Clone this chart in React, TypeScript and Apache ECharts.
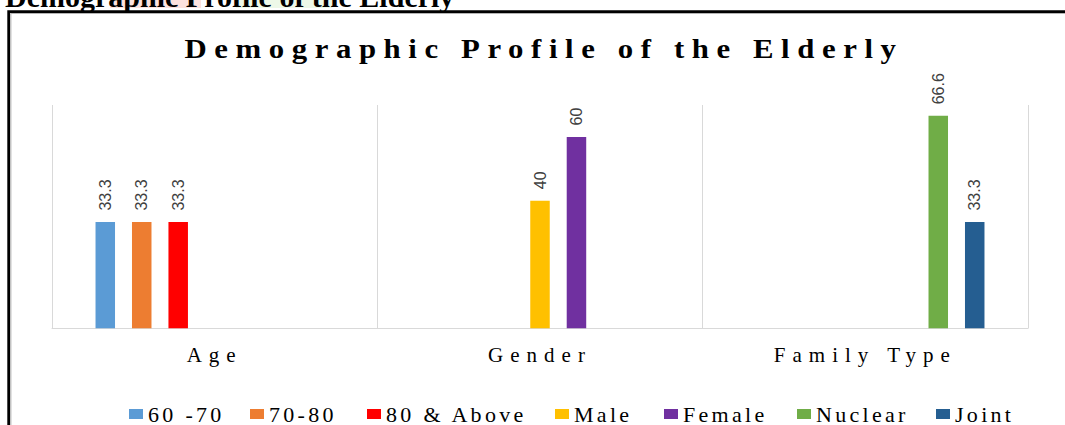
import React, { useEffect, useRef } from 'react';
import * as echarts from 'echarts';

// ---- data ----
const categories = ['Age', 'Gender', 'Family Type'];
const seriesNames = ['60 -70', '70-80', '80 & Above', 'Male', 'Female', 'Nuclear', 'Joint'];
const age60to70 = [33.3, null, null];
const age70to80 = [33.3, null, null];
const age80Above = [33.3, null, null];
const male = [null, 40, null];
const female = [null, 60, null];
const nuclear = [null, null, 66.6];
const joint = [null, null, 33.3];
const seriesColors = ['#5b9bd5', '#ed7d31', '#ff0000', '#ffc000', '#7030a0', '#70ad47', '#255e91'];
const chartTitle = 'Demographic Profile of the Elderly';

// ---- layout ----
const legendLefts = [129, 250, 367, 555, 664, 797, 936];

const SERIF_TITLE = 'Liberation Serif, lsTitle, serif';
const SERIF_AXIS = 'Liberation Serif, lsAxis, serif';
const SERIF_LEGEND = 'Liberation Serif, lsLegend, serif';
const SERIF_PLAIN = 'Liberation Serif, serif';

const css = `
#chart-root text[style*="lsTitle"] { letter-spacing: 6.9px; }
#chart-root text[style*="lsAxis"] { letter-spacing: 7px; }
#chart-root text[style*="lsLegend"] { letter-spacing: 3.3px; }
`;

export default function App() {
  const ref = useRef<HTMLDivElement>(null);

  useEffect(() => {
    if (!ref.current) return;
    const chart = echarts.init(ref.current, null, { renderer: 'svg' });
    const seriesData = [age60to70, age70to80, age80Above, male, female, nuclear, joint];

    const option: any = {
      animation: false,
      backgroundColor: '#ffffff',
      graphic: [
        { type: 'rect', z: 0, shape: { x: 110, y: 0, width: 91, height: 8 }, style: { fill: '#fde2de' } },
        { type: 'rect', z: 0, shape: { x: 236, y: 0, width: 96, height: 8 }, style: { fill: '#edf8e8' } },
        {
          type: 'text', z: 1, x: 5, y: -4,
          style: { text: chartTitle, fontFamily: SERIF_PLAIN, fontSize: 30, fontWeight: 'bold', fill: '#000', align: 'left', verticalAlign: 'middle' },
        },
        {
          type: 'rect', z: 1, shape: { x: 10.8, y: 13.4, width: 1300, height: 1000 },
          style: { fill: 'none', stroke: '#b4b4b4', lineWidth: 1.2 },
        },
        {
          type: 'rect', z: 2, shape: { x: 8.65, y: 11.6, width: 1300, height: 1000 },
          style: { fill: 'none', stroke: '#000', lineWidth: 2.7 },
        },
        {
          type: 'text', z: 2, x: 544, y: 48, scaleX: 1.1,
          style: { text: chartTitle, fontFamily: SERIF_TITLE, fontSize: 28, fontWeight: 'bold', fill: '#000', align: 'center', verticalAlign: 'middle' },
        },
      ],
      grid: { left: 52, right: 37, top: 105, bottom: 96.7, containLabel: false },
      xAxis: {
        type: 'category',
        data: categories,
        axisLine: { lineStyle: { color: '#d9d9d9', width: 1 } },
        axisTick: { show: false },
        splitLine: { show: true, lineStyle: { color: '#d9d9d9', width: 1 } },
        axisLabel: { fontFamily: SERIF_AXIS, fontSize: 21, color: '#000', margin: 16 },
      },
      yAxis: { type: 'value', min: 0, max: 70, show: false },
      legend: seriesNames.map((name, i) => ({
        data: [name],
        left: legendLefts[i],
        top: 403,
        padding: 0,
        itemGap: 0,
        itemWidth: 14,
        itemHeight: 10,
        icon: 'rect',
        selectedMode: false,
        textStyle: { fontFamily: SERIF_LEGEND, fontSize: 22, color: '#000' },
      })),
      series: seriesNames.map((name, i) => ({
        name,
        type: 'bar',
        data: seriesData[i],
        barWidth: 19.5,
        barGap: '87%',
        itemStyle: { color: seriesColors[i] },
        label: {
          show: true,
          position: 'top',
          distance: 11.5,
          rotate: 90,
          align: 'left',
          verticalAlign: 'middle',
          fontFamily: 'Liberation Sans Narrow, Arial Narrow, Liberation Sans, sans-serif',
          fontSize: 16,
          color: '#404040',
        },
      })),
    };
    chart.setOption(option);
    return () => chart.dispose();
  }, []);

  return (
    <>
      <style>{css}</style>
      <div
        id="chart-root"
        ref={ref}
        style={{ position: 'absolute', left: 0, top: 0, width: 1065, height: 425 }}
      />
    </>
  );
}
